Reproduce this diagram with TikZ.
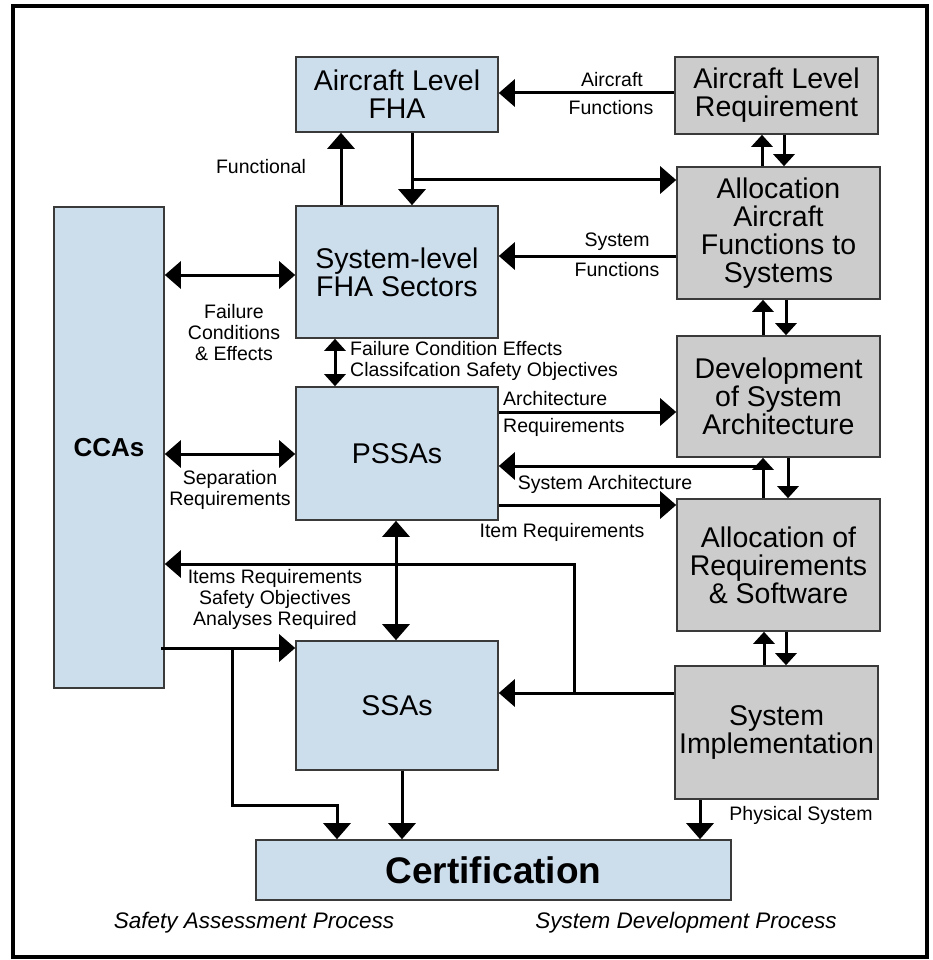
\documentclass[tikz,border=0pt]{standalone}
\usepackage{fontspec}
\setmainfont{Liberation Sans}
\usetikzlibrary{arrows.meta}
\definecolor{bfill}{HTML}{CCDDEC}
\definecolor{gfill}{HTML}{CCCCCC}
\definecolor{bord}{HTML}{3A3A3A}
\begin{document}
\begin{tikzpicture}[x=1pt,y=-1pt,
  bbox/.style={draw=bord, line width=1.6pt, fill=bfill, inner sep=0pt, align=center, font=\fontsize{28.5}{28}\selectfont},
  gbox/.style={bbox, fill=gfill},
  lbl/.style={font=\fontsize{19.5}{21}\selectfont, inner sep=0pt, align=center},
  conn/.style={line width=3pt},
  arr/.style={conn, -{Triangle[width=27pt,length=16pt]}},
  darr/.style={conn, {Triangle[width=27pt,length=16pt]}-{Triangle[width=27pt,length=16pt]}},
  sarr/.style={conn, -{Triangle[width=21pt,length=12pt]}},
  sdarr/.style={conn, {Triangle[width=21pt,length=12pt]}-{Triangle[width=21pt,length=12pt]}}
]
\useasboundingbox (0,0) rectangle (933,960);
\fill[white] (0,0) rectangle (933,960);
\draw[line width=4.5pt] (13,6) rectangle (927,957);

% boxes
\node[bbox, minimum width=202pt, minimum height=75pt] (afha) at (397,94.5) {Aircraft Level\\FHA};
\node[gbox, minimum width=203pt, minimum height=77pt] (alr) at (776.5,95.5) {Aircraft Level\\Requirement};
\node[gbox, minimum width=203pt, minimum height=132pt] (aafs) at (778.5,233) {Allocation\\Aircraft\\Functions to\\Systems};
\node[bbox, minimum width=202pt, minimum height=132pt] (sfha) at (397,272) {System-level\\FHA Sectors};
\node[bbox, minimum width=110pt, minimum height=481pt, font=\fontsize{26}{28}\selectfont\bfseries] (ccas) at (109,447.5) {CCAs};
\node[bbox, minimum width=202pt, minimum height=133pt] (pssa) at (397,453.5) {PSSAs};
\node[gbox, minimum width=203pt, minimum height=121pt] (dsa) at (778.5,396.5) {Development\\of System\\Architecture};
\node[gbox, minimum width=203pt, minimum height=132pt] (ars) at (778.5,565) {Allocation of\\Requirements\\\& Software};
\node[bbox, minimum width=202pt, minimum height=129pt] (ssa) at (397,705.5) {SSAs};
\node[gbox, minimum width=203pt, minimum height=133pt] (simp) at (776.5,732.5) {System\\Implementation};
\node[bbox, minimum width=475pt, minimum height=60pt, font=\fontsize{37}{40}\selectfont\bfseries] (cert) at (493.5,870) {Certification};

% junction coordinates
\coordinate (j1) at (412,180);
\coordinate (j2) at (763,466);
\coordinate (j3) at (574,693);
\coordinate (j4) at (574,564);
\coordinate (j5) at (161,648);
\coordinate (j6) at (232,648);
\coordinate (j7) at (232,805);
\coordinate (j8) at (337,805);

% connectors
\draw[arr] (alr.west |- 0,93) -- (afha.east |- 0,93);
\draw[arr] (sfha.north -| 341,0) -- (afha.south -| 341,0);
\draw[arr] (afha.south -| 412,0) -- (sfha.north -| 412,0);
\draw[arr] (j1) -- (aafs.west |- j1);
\draw[arr] (aafs.west |- 0,256) -- (sfha.east |- 0,256);
\draw[sarr] (aafs.north -| 762,0) -- (alr.south -| 762,0);
\draw[sarr] (alr.south -| 784,0) -- (aafs.north -| 784,0);
\draw[darr] (ccas.east |- 0,275) -- (sfha.west |- 0,275);
\draw[sdarr] (sfha.south -| 335,0) -- (pssa.north -| 335,0);
\draw[sarr] (dsa.north -| 763,0) -- (aafs.south -| 763,0);
\draw[sarr] (aafs.south -| 786,0) -- (dsa.north -| 786,0);
\draw[darr] (ccas.east |- 0,454) -- (pssa.west |- 0,454);
\draw[arr] (pssa.east |- 0,412) -- (dsa.west |- 0,412);
\draw[sarr] (ars.north -| j2) -- (dsa.south -| j2);
\draw[arr] (j2) -- (pssa.east |- j2);
\draw[sarr] (dsa.south -| 788,0) -- (ars.north -| 788,0);
\draw[arr] (pssa.east |- 0,505) -- (ars.west |- 0,505);
\draw[darr] (pssa.south -| 396,0) -- (ssa.north -| 396,0);
\draw[arr] (simp.west |- j3) -- (ssa.east |- j3);
\draw[arr] (j3) -- (j4) -- (ccas.east |- j4);
\draw[arr] (j5) -- (ssa.west |- j5);
\draw[arr] (j6) -- (j7) -- (j8) -- (cert.north -| j8);
\draw[arr] (ssa.south -| 402,0) -- (cert.north -| 402,0);
\draw[arr] (simp.south -| 700,0) -- (cert.north -| 700,0);
\draw[sarr] (simp.north -| 764,0) -- (ars.south -| 764,0);
\draw[sarr] (ars.south -| 786,0) -- (simp.north -| 786,0);

% labels
\node[lbl] (l1) at (612,80) {Aircraft};
\node[lbl] (l2) at (611,108) {Functions};
\node[lbl] (l3) at (261,167) {Functional};
\node[lbl] (l4) at (617,242) {System};
\node[lbl] (l5) at (617,270) {Functions};
\node[lbl] (l6) at (234,333) {Failure\\Conditions\\\& Effects};
\node[lbl, anchor=west, align=left] (l7) at (350,361) {Failure Condition Effects\\Classifcation Safety Objectives};
\node[lbl] (l8) at (230,490) {Separation\\Requirements};
\node[lbl, anchor=west] (l9) at (503,399) {Architecture};
\node[lbl, anchor=west] (l10) at (503,427) {Requirements};
\node[lbl] (l11) at (605,484) {System Architecture};
\node[lbl] (l12) at (562,532) {Item Requirements};
\node[lbl] (l13) at (275,599) {Items Requirements\\Safety Objectives\\Analyses Required};
\node[lbl] (l14) at (801,815) {Physical System};
\node[lbl, font=\fontsize{22.5}{24}\selectfont\itshape] (l15) at (254,923) {Safety Assessment Process};
\node[lbl, font=\fontsize{22.5}{24}\selectfont\itshape] (l16) at (686,923) {System Development Process};
\end{tikzpicture}
\end{document}
